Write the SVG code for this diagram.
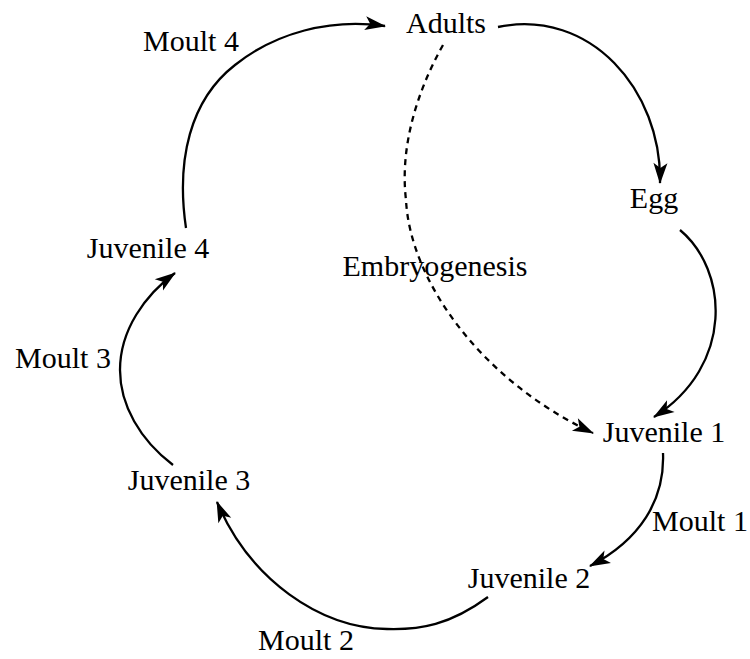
<svg xmlns="http://www.w3.org/2000/svg" width="750" height="659" viewBox="0 0 750 659">
<style>
text{font-family:"Liberation Serif","Times New Roman",serif;font-size:30px;fill:#000;text-anchor:middle}
.c{fill:none;stroke:#000;stroke-width:2.3}
.d{stroke-dasharray:6,5}
</style>
<defs>
<marker id="ah" markerUnits="userSpaceOnUse" markerWidth="24" markerHeight="16" refX="20" refY="7" orient="auto" overflow="visible">
<path d="M0,0 L21,7 L0,14 L5,7 z" fill="#000"/>
</marker>
</defs>
<rect width="750" height="659" fill="#fff"/>
<g id="connectors">
<path class="c" marker-end="url(#ah)" d="M498,27 C590,8 662,90 660,183"/>
<path class="c" marker-end="url(#ah)" d="M680,230 C728,270 735,365 654,417"/>
<path class="c d" marker-end="url(#ah)" d="M443,45 C415,95 400,150 406,200 C410,280 480,380 593,433"/>
<path class="c" marker-end="url(#ah)" d="M663,453 C665,500 640,540 590,566"/>
<path class="c" marker-end="url(#ah)" d="M488,597 C450,625 420,630 387,629 C320,628 250,580 217,502"/>
<path class="c" marker-end="url(#ah)" d="M173,465 C140,440 120,405 120,370 C120,330 145,295 175,273"/>
<path class="c" marker-end="url(#ah)" d="M186,228 C176,160 190,100 235,65 C275,33 330,18 385,26"/>
</g>
<g id="adults"><text x="446" y="33">Adults</text></g>
<g id="egg"><text x="654" y="208">Egg</text></g>
<g id="juvenile1"><text x="664" y="442">Juvenile 1</text></g>
<g id="juvenile2"><text x="529" y="588">Juvenile 2</text></g>
<g id="juvenile3"><text x="189" y="490">Juvenile 3</text></g>
<g id="juvenile4"><text x="148" y="258">Juvenile 4</text></g>
<g id="labels">
<text x="435" y="276">Embryogenesis</text>
<text x="191" y="51">Moult 4</text>
<text x="63" y="368">Moult 3</text>
<text x="306" y="650">Moult 2</text>
<text x="700" y="531">Moult 1</text>
</g>
</svg>
